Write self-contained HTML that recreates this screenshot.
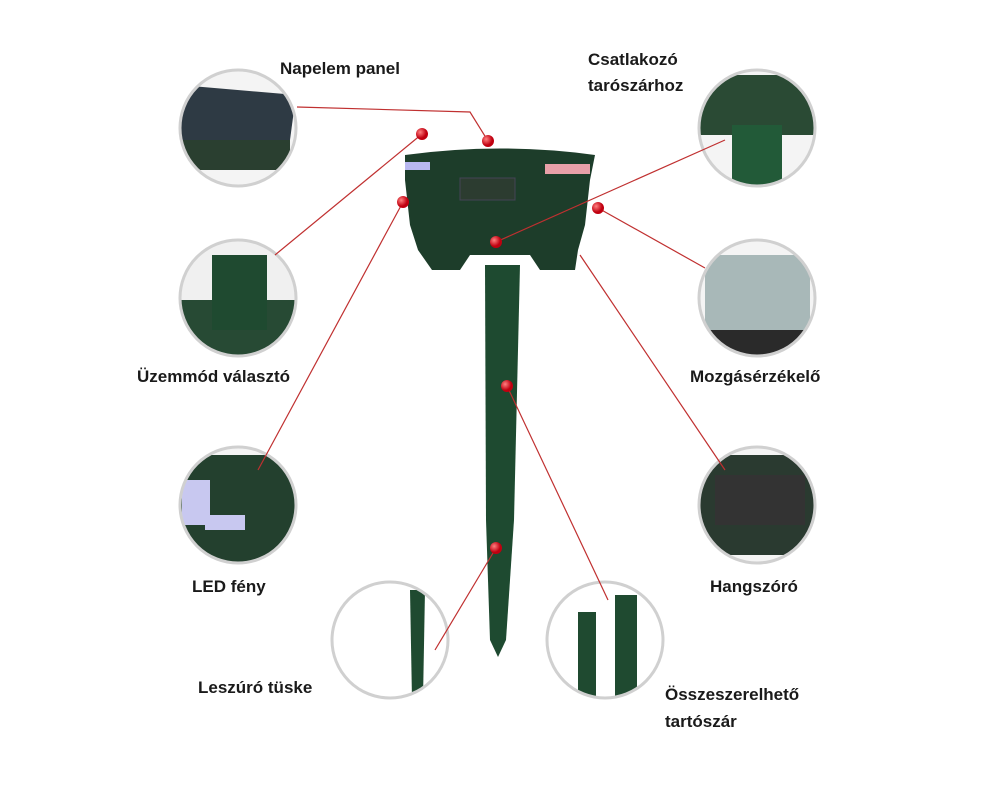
<!DOCTYPE html>
<html><head><meta charset="utf-8"><style>
body{margin:0;background:#fff;}
.l{position:absolute;font-family:"Liberation Sans",sans-serif;font-weight:bold;font-size:17px;color:#1a1a1a;white-space:nowrap}
</style></head><body>
<div style="position:relative;width:1000px;height:785px;overflow:hidden">
<svg width="1000" height="785" style="position:absolute;left:0;top:0">
<defs><radialGradient id="rd" cx="35%" cy="35%"><stop offset="0" stop-color="#ff8080"/><stop offset="1" stop-color="#c00010"/></radialGradient>
<clipPath id="c1"><circle cx="238" cy="128" r="57"/></clipPath>
<clipPath id="c2"><circle cx="757" cy="128" r="57"/></clipPath>
<clipPath id="c3"><circle cx="238" cy="298" r="57"/></clipPath>
<clipPath id="c4"><circle cx="757" cy="298" r="57"/></clipPath>
<clipPath id="c5"><circle cx="238" cy="505" r="57"/></clipPath>
<clipPath id="c6"><circle cx="757" cy="505" r="57"/></clipPath>
<clipPath id="c7"><circle cx="390" cy="640" r="57"/></clipPath>
<clipPath id="c8"><circle cx="605" cy="640" r="57"/></clipPath>
</defs>
<g clip-path="url(#c1)"><rect x="170" y="60" width="140" height="140" fill="#f4f4f4"/><path d="M180 85 L296 95 L290 140 L180 140 Z" fill="#2e3a44"/><rect x="180" y="140" width="110" height="30" fill="#2a3f30"/></g>
<g clip-path="url(#c2)"><rect x="690" y="60" width="140" height="140" fill="#f4f4f4"/><rect x="700" y="75" width="115" height="60" fill="#2a4a34"/><rect x="732" y="125" width="50" height="65" fill="#225a38"/></g>
<g clip-path="url(#c3)"><rect x="170" y="230" width="140" height="140" fill="#f0f0f0"/><path d="M180 300 L296 300 L296 360 L180 360 Z" fill="#274a34"/><rect x="212" y="255" width="55" height="75" fill="#1f4a30"/></g>
<g clip-path="url(#c4)"><rect x="690" y="230" width="140" height="140" fill="#f4f4f4"/><rect x="705" y="255" width="105" height="75" fill="#a8b8b8"/><rect x="700" y="330" width="115" height="30" fill="#2a2a2a"/></g>
<g clip-path="url(#c5)"><rect x="170" y="440" width="140" height="140" fill="#f4f4f4"/><rect x="180" y="455" width="120" height="110" fill="#23402e"/><rect x="182" y="480" width="28" height="45" fill="#c8c8f0"/><rect x="205" y="515" width="40" height="15" fill="#c8c8f0"/></g>
<g clip-path="url(#c6)"><rect x="690" y="440" width="140" height="140" fill="#f4f4f4"/><rect x="700" y="455" width="115" height="100" fill="#2a3a30"/><rect x="715" y="475" width="90" height="50" fill="#333"/></g>
<g clip-path="url(#c7)"><rect x="330" y="580" width="140" height="140" fill="#fff"/><path d="M410 590 L425 590 L423 700 L412 700 Z" fill="#1f4a30"/></g>
<g clip-path="url(#c8)"><rect x="545" y="580" width="140" height="140" fill="#fff"/><rect x="578" y="612" width="18" height="100" fill="#1f4a30"/><rect x="615" y="595" width="22" height="110" fill="#1f4a30"/></g>
<g fill="none" stroke="#d0d0d0" stroke-width="3">
<circle cx="238" cy="128" r="58"/><circle cx="757" cy="128" r="58"/>
<circle cx="238" cy="298" r="58"/><circle cx="757" cy="298" r="58"/>
<circle cx="238" cy="505" r="58"/><circle cx="757" cy="505" r="58"/>
<circle cx="390" cy="640" r="58"/><circle cx="605" cy="640" r="58"/>
</g>
<!-- device -->
<path d="M485 265 L520 265 L514 520 L506 640 L498 657 L490 640 L486 520 Z" fill="#1e4a30"/>
<path d="M405 155 Q500 142 595 155 L590 180 L585 225 L578 250 L575 270 L540 270 L530 255 L470 255 L460 270 L432 270 L418 250 L410 225 L405 180 Z" fill="#1d3d2a"/>
<rect x="405" y="162" width="25" height="8" fill="#b8b8f0"/>
<rect x="545" y="164" width="45" height="10" fill="#e8a0a8"/>
<rect x="460" y="178" width="55" height="22" fill="#2c3c30" stroke="#445"/>
<g stroke="#c03030" stroke-width="1.2" fill="none">
<polyline points="297,107 470,112 488,141"/>
<line x1="422" y1="134" x2="275" y2="255"/>
<line x1="403" y1="202" x2="258" y2="470"/>
<line x1="496" y1="242" x2="725" y2="140"/>
<line x1="598" y1="208" x2="705" y2="268"/>
<line x1="580" y1="255" x2="725" y2="470"/>
<line x1="507" y1="386" x2="608" y2="600"/>
<line x1="496" y1="548" x2="435" y2="650"/>
</g>
<g fill="url(#rd)">
<circle cx="488" cy="141" r="6"/><circle cx="422" cy="134" r="6"/><circle cx="403" cy="202" r="6"/>
<circle cx="496" cy="242" r="6"/><circle cx="598" cy="208" r="6"/><circle cx="507" cy="386" r="6"/><circle cx="496" cy="548" r="6"/>
</g>
</svg>
<div class="l" style="left:280px;top:59px">Napelem panel</div>
<div class="l" style="left:588px;top:50px">Csatlakozó</div>
<div class="l" style="left:588px;top:76px">tarószárhoz</div>
<div class="l" style="left:137px;top:367px">Üzemmód választó</div>
<div class="l" style="left:690px;top:367px">Mozgásérzékelő</div>
<div class="l" style="left:192px;top:577px">LED fény</div>
<div class="l" style="left:710px;top:577px">Hangszóró</div>
<div class="l" style="left:198px;top:678px">Leszúró tüske</div>
<div class="l" style="left:665px;top:685px">Összeszerelhető</div>
<div class="l" style="left:665px;top:712px">tartószár</div>
</div>
</body></html>
